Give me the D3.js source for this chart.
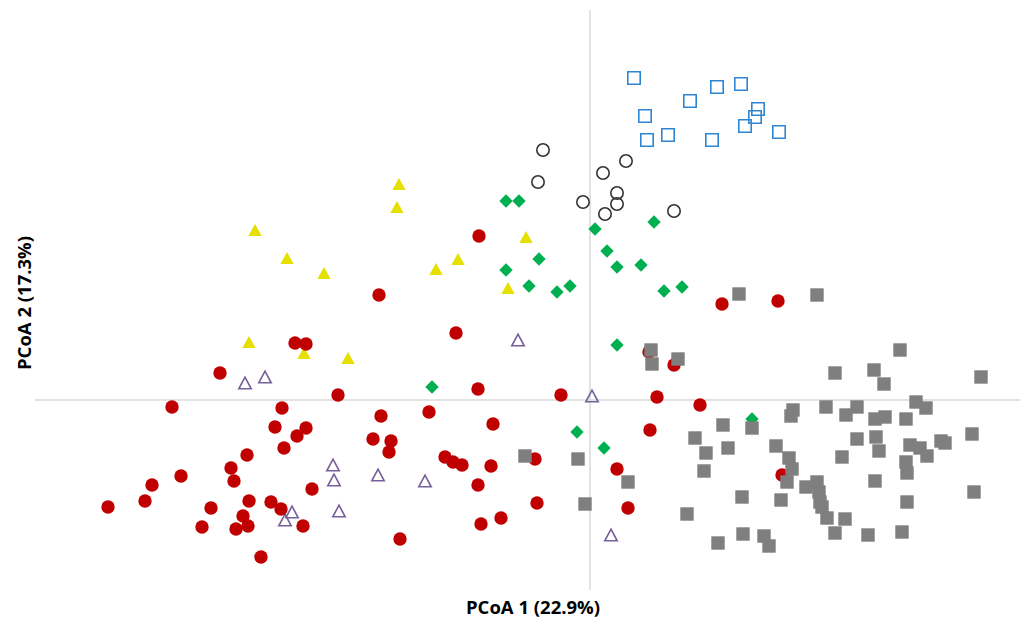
<!DOCTYPE html>
<html>
<head>
<meta charset="utf-8">
<script src="https://cdn.jsdelivr.net/npm/d3@7"></script>
<style>
  body { margin: 0; background: #fff; }
  svg { display: block; }
</style>
</head>
<body>
<div id="chart"></div>
<script>
// PCoA ordination plot, seven sample groups

const width = 1023;
const height = 622;

// scores per group: [PCoA 1, PCoA 2]
const blueSquares = [
  [0.044, 0.322], [0.127, 0.313], [0.151, 0.316], [0.100, 0.299], [0.055, 0.284],
  [0.168, 0.291], [0.165, 0.283], [0.155, 0.274], [0.057, 0.260], [0.078, 0.265],
  [0.122, 0.260], [0.189, 0.268]
];

const blackCircles = [
  [-0.047, 0.250], [-0.052, 0.218], [0.036, 0.239], [0.013, 0.227], [0.027, 0.207],
  [0.027, 0.196], [-0.007, 0.198], [0.015, 0.186], [0.084, 0.189]
];

const yellowTriangles = [
  [-0.335, 0.170], [-0.303, 0.142], [-0.191, 0.216], [-0.193, 0.193], [-0.064, 0.163],
  [-0.132, 0.141], [-0.341, 0.058], [-0.266, 0.127], [-0.154, 0.131], [-0.082, 0.112],
  [-0.286, 0.047], [-0.242, 0.042]
];

const purpleTriangles = [
  [-0.345, 0.017], [-0.325, 0.023], [-0.072, 0.060], [0.002, 0.004], [-0.257, -0.065],
  [-0.256, -0.080], [-0.212, -0.075], [-0.165, -0.081], [-0.251, -0.111], [-0.298, -0.112],
  [-0.305, -0.120], [0.021, -0.135]
];

const redCircles = [
  [-0.111, 0.164], [-0.211, 0.105], [-0.134, 0.067], [-0.295, 0.057], [-0.284, 0.056],
  [-0.370, 0.027], [0.132, 0.096], [0.188, 0.099], [0.059, 0.048], [0.084, 0.035],
  [-0.252, 0.005], [-0.112, 0.011], [-0.029, 0.005], [0.067, 0.003], [0.110, -0.005],
  [-0.418, -0.007], [-0.308, -0.008], [-0.209, -0.016], [-0.161, -0.012], [-0.097, -0.024],
  [-0.315, -0.027], [-0.284, -0.028], [0.060, -0.030], [-0.293, -0.036], [-0.217, -0.039],
  [-0.199, -0.041], [-0.201, -0.052], [-0.306, -0.048], [-0.343, -0.055], [-0.145, -0.057],
  [-0.137, -0.062], [-0.128, -0.065], [-0.099, -0.066], [-0.055, -0.059], [-0.359, -0.068],
  [-0.356, -0.081], [-0.409, -0.076], [0.027, -0.069], [-0.112, -0.085], [-0.278, -0.089],
  [-0.438, -0.085], [-0.445, -0.101], [-0.482, -0.107], [-0.379, -0.108], [-0.341, -0.101],
  [-0.319, -0.102], [-0.309, -0.109], [-0.347, -0.116], [-0.342, -0.126], [-0.354, -0.129],
  [-0.388, -0.127], [-0.053, -0.103], [0.038, -0.108], [-0.089, -0.118], [-0.109, -0.124],
  [-0.287, -0.126], [-0.329, -0.157], [-0.190, -0.139], [0.192, -0.075]
];

const greenDiamonds = [
  [-0.084, 0.199], [-0.071, 0.199], [0.005, 0.171], [0.064, 0.178], [0.017, 0.149],
  [-0.051, 0.141], [0.027, 0.133], [0.051, 0.135], [-0.084, 0.130], [-0.061, 0.114],
  [-0.033, 0.108], [-0.020, 0.114], [0.074, 0.109], [0.092, 0.113], [0.027, 0.055],
  [-0.158, 0.013], [0.162, -0.019], [-0.013, -0.032], [0.014, -0.048]
];

const graySquares = [
  [0.149, 0.106], [0.227, 0.105], [0.061, 0.050], [0.062, 0.036], [0.088, 0.041],
  [0.310, 0.050], [0.245, 0.027], [0.284, 0.030], [0.294, 0.016], [0.391, 0.023],
  [0.203, -0.010], [0.201, -0.016], [0.236, -0.007], [0.267, -0.007], [0.256, -0.015],
  [0.285, -0.019], [0.295, -0.017], [0.316, -0.019], [0.326, -0.002], [0.336, -0.008],
  [0.133, -0.025], [0.162, -0.028], [0.105, -0.038], [0.116, -0.053], [0.138, -0.048],
  [0.114, -0.071], [0.186, -0.046], [0.199, -0.058], [0.202, -0.069], [0.197, -0.082],
  [0.216, -0.087], [0.227, -0.082], [0.229, -0.092], [0.230, -0.102], [0.232, -0.107],
  [0.152, -0.097], [0.191, -0.100], [0.097, -0.114], [0.153, -0.134], [0.174, -0.136],
  [0.179, -0.146], [0.128, -0.143], [0.237, -0.118], [0.255, -0.119], [0.245, -0.133],
  [0.278, -0.135], [0.312, -0.132], [0.267, -0.039], [0.286, -0.037], [0.289, -0.051],
  [0.252, -0.057], [0.320, -0.045], [0.330, -0.048], [0.337, -0.056], [0.351, -0.041],
  [0.355, -0.043], [0.382, -0.034], [0.316, -0.062], [0.317, -0.073], [0.285, -0.081],
  [0.384, -0.092], [0.317, -0.102], [-0.065, -0.056], [-0.012, -0.059], [-0.005, -0.104],
  [0.038, -0.082]
];

const axisTitles = ["PCoA 1 (22.9%)", "PCoA 2 (17.3%)"];

// draw order follows the original series order
const series = [
  { data: blueSquares, shape: "square", fill: "none", stroke: "#2e86d3" },
  { data: blackCircles, shape: "circle", fill: "none", stroke: "#333333" },
  { data: yellowTriangles, shape: "triangle", fill: "#e6e000", stroke: "none" },
  { data: purpleTriangles, shape: "triangle", fill: "none", stroke: "#76609a" },
  { data: redCircles, shape: "circle", fill: "#c00000", stroke: "none" },
  { data: greenDiamonds, shape: "diamond", fill: "#00b050", stroke: "none" },
  { data: graySquares, shape: "square", fill: "#7f7f7f", stroke: "none" }
];

const svg = d3.select("#chart")
  .append("svg")
  .attr("width", width)
  .attr("height", height);

const x = d3.scaleLinear()
  .domain([-0.555, 0.430])
  .range([35, 1020]);

const y = d3.scaleLinear()
  .domain([-0.190, 0.390])
  .range([590, 10]);

// axis lines through the origin
svg.append("line")
  .attr("x1", x(-0.555)).attr("x2", x(0.430))
  .attr("y1", y(0)).attr("y2", y(0))
  .attr("stroke", "#d9d9d9")
  .attr("stroke-width", 1.5);

svg.append("line")
  .attr("x1", x(0)).attr("x2", x(0))
  .attr("y1", y(0.390)).attr("y2", y(-0.190))
  .attr("stroke", "#d9d9d9")
  .attr("stroke-width", 1.5);

// marker outlines, centred on 0,0
function markerPath(shape, open) {
  const s = open ? 6.2 : 6.7;
  if (shape === "square") {
    return `M${-s},${-s}H${s}V${s}H${-s}Z`;
  }
  if (shape === "diamond") {
    return `M0,${-s}L${s},0L0,${s}L${-s},0Z`;
  }
  if (shape === "triangle") {
    const h = open ? 5.8 : 6;
    return `M0,${-h}L${s},${h}L${-s},${h}Z`;
  }
  return `M${s},0A${s},${s} 0 1,1 ${-s},0A${s},${s} 0 1,1 ${s},0Z`;
}

series.forEach(sr => {
  const open = sr.fill === "none";
  svg.append("g")
    .selectAll("path")
    .data(sr.data)
    .join("path")
    .attr("transform", d => `translate(${x(d[0])},${y(d[1])})`)
    .attr("d", markerPath(sr.shape, open))
    .attr("fill", sr.fill)
    .attr("stroke", sr.stroke)
    .attr("stroke-width", open ? 1.6 : 0);
});

// axis titles
svg.append("text")
  .attr("x", 533)
  .attr("y", 614)
  .attr("text-anchor", "middle")
  .attr("font-family", "'Open Sans', Lato, sans-serif")
  .attr("font-weight", "bold")
  .attr("font-size", "18.5px")
  .attr("fill", "#000")
  .text(axisTitles[0]);

svg.append("text")
  .attr("transform", "translate(31,303) rotate(-90)")
  .attr("text-anchor", "middle")
  .attr("font-family", "'Open Sans', Lato, sans-serif")
  .attr("font-weight", "bold")
  .attr("font-size", "18.5px")
  .attr("fill", "#000")
  .text(axisTitles[1]);
</script>
</body>
</html>
